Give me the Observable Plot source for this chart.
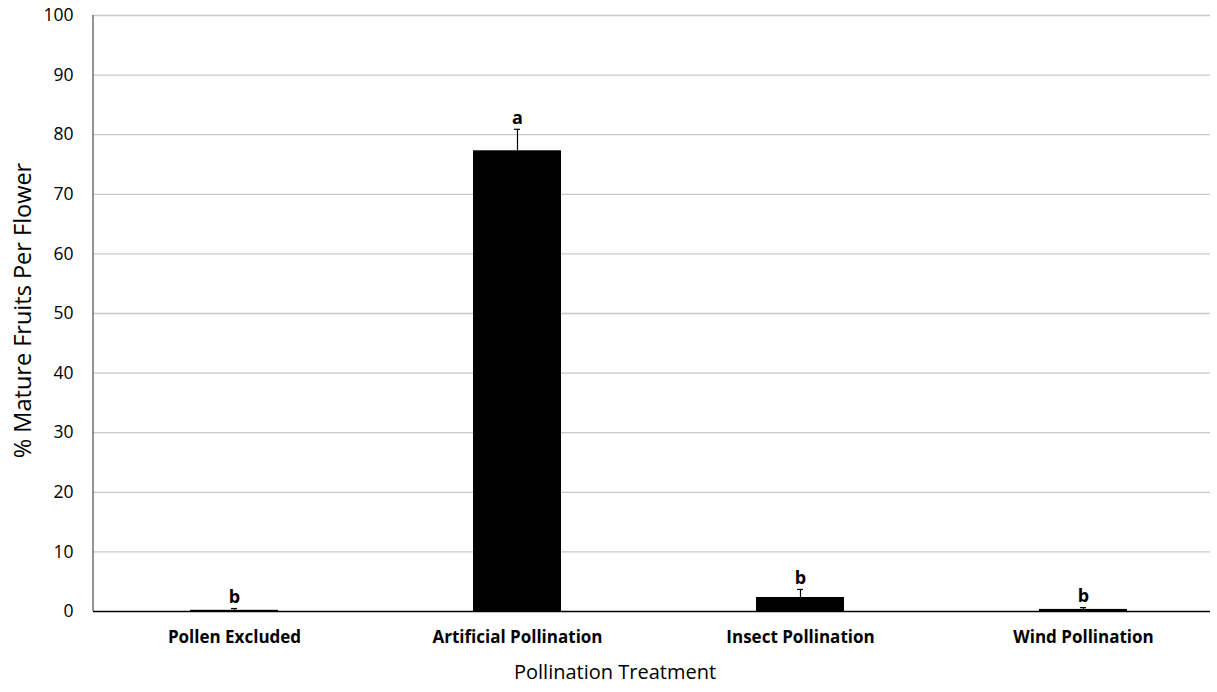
<!DOCTYPE html>
<html>
<head>
<meta charset="utf-8">
<script src="https://cdn.jsdelivr.net/npm/d3@7"></script>
<script src="https://cdn.jsdelivr.net/npm/@observablehq/plot@0.6"></script>
<style>
body { margin: 0; background: #fff; }
#chart svg { display: block; }
</style>
</head>
<body>
<div id="chart"></div>
<script>
const categories = ["Pollen Excluded", "Artificial Pollination", "Insect Pollination", "Wind Pollination"];
const means = [0.2, 77.3, 2.35, 0.35];
const errors = [0.3, 3.6, 1.35, 0.3];
const letters = ["b", "a", "b", "b"];
const yTicks = [0, 10, 20, 30, 40, 50, 60, 70, 80, 90, 100];

const data = categories.map((c, i) => ({cat: c, mean: means[i], err: errors[i], top: means[i] + errors[i], letter: letters[i]}));

const font = "'Open Sans', sans-serif";

const chart = Plot.plot({
  width: 1217,
  height: 692,
  marginLeft: 93,
  marginRight: 7,
  marginTop: 15,
  marginBottom: 81,
  style: {fontFamily: font, fontSize: "16px", color: "#000", background: "#fff"},
  x: {domain: categories, range: [92.5, 1224.5], paddingInner: 0.689, paddingOuter: 0.3445, label: null},
  y: {domain: [0, 100], label: null},
  marks: [
    Plot.ruleY(yTicks.filter(d => d > 0), {stroke: "#c8c8c8", strokeWidth: 1.3}),
    Plot.barY(data, {x: "cat", y: "mean", fill: "#000"}),
    Plot.ruleX(data, {x: "cat", y1: "mean", y2: "top", stroke: "#000", strokeWidth: 1.2}),
    Plot.tickY(data, {x: "cat", y: "top", stroke: "#000", strokeWidth: 1.2, insetLeft: 41, insetRight: 41}),
    Plot.text(data, {x: "cat", y: "top", text: "letter", dy: -11, fontWeight: "bold", fontSize: 18, fill: "#000"}),
    Plot.axisY({ticks: yTicks, tickSize: 0, tickPadding: 20, fontSize: 17.5, label: null}),
    Plot.axisX({tickSize: 0, tickPadding: 19, fontSize: 17, fontWeight: "bold", label: null}),
    Plot.ruleY([0], {stroke: "#000", strokeWidth: 1.3}),
    Plot.text(["% Mature Fruits Per Flower"], {frameAnchor: "left", textAnchor: "middle", dx: -70, dy: -3, rotate: -90, fontSize: 23.5, fill: "#000"}),
    Plot.text(["Pollination Treatment"], {frameAnchor: "bottom", dx: -37, dy: 67, fontSize: 20, fill: "#000"})
  ]
});

// left axis line
const svg = d3.select(chart);
svg.append("line")
  .attr("x1", 93).attr("x2", 93)
  .attr("y1", 15).attr("y2", 611)
  .attr("stroke", "#595959").attr("stroke-width", 1.3);

document.getElementById("chart").appendChild(chart);
</script>
</body>
</html>
